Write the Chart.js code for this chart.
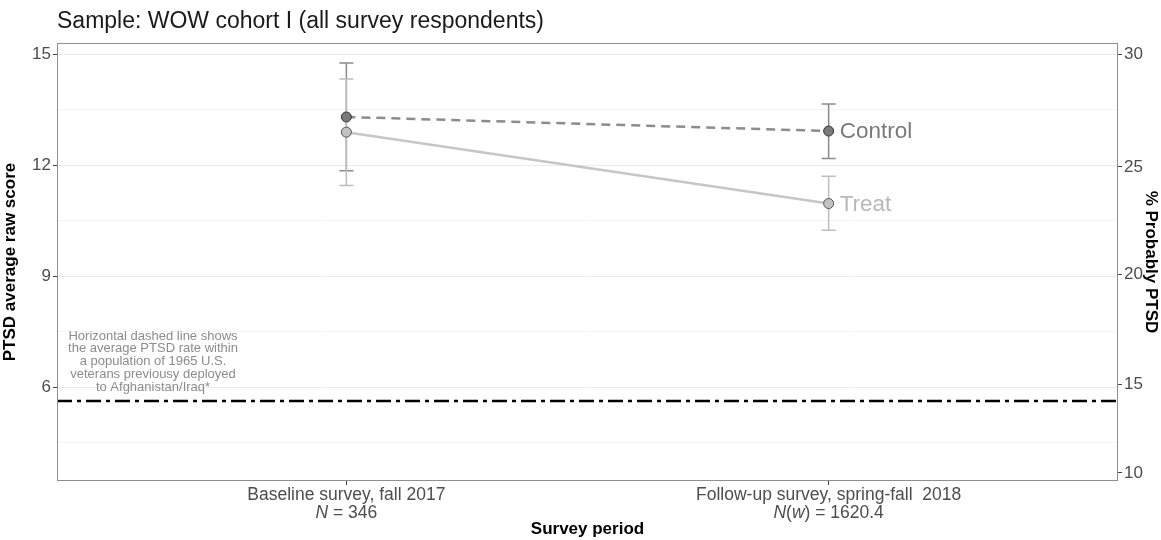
<!DOCTYPE html>
<html>
<head>
  <script src="https://cdn.jsdelivr.net/npm/chart.js@4.4.1/dist/chart.umd.min.js"></script>
  <style>
    body { margin: 0; background: #fff; }
    #wrap { position: relative; width: 1161px; height: 540px; }
  </style>
</head>
<body>
  <div id="wrap"><canvas id="myChart"></canvas></div>
  <script type="text/javascript">
    // data
    var periods = [1, 2];
    var periodLine1 = ['Baseline survey, fall 2017', 'Follow-up survey, spring-fall  2018'];
    var periodN = [['N', ' = 346'], ['N(w)', ' = 1620.4']];
    var groups = ['Control', 'Treat'];
    var controlMean = [13.30, 12.92];
    var controlLow = [11.85, 12.18];
    var controlHigh = [14.76, 13.65];
    var treatMean = [12.89, 10.96];
    var treatLow = [11.45, 10.24];
    var treatHigh = [14.33, 11.70];
    var refLineValue = 5.62;
    var refNote = ['Horizontal dashed line shows', 'the average PTSD rate within', 'a population of 1965 U.S.',
                   'veterans previousy deployed', 'to Afghanistan/Iraq*'];
    // right axis: % probably PTSD labels and the raw score each sits on
    var pctLabels = [10, 15, 20, 25, 30];
    var pctAtRaw = [3.68, 6.08, 9.05, 11.95, 15.0];

    var FONT = '"Liberation Sans", Arial, sans-serif';
    var TICK = 17;

    function pts(vals) {
      return vals.map(function(v, i) { return { x: periods[i], y: v }; });
    }

    var errs = [
      { low: controlLow, high: controlHigh, color: '#8a8a8a' },
      { low: treatLow, high: treatHigh, color: '#bdbdbd' }
    ];

    var extras = {
      id: 'extras',
      beforeDatasetsDraw: function(chart) {
        var ctx = chart.ctx, xs = chart.scales.x, ys = chart.scales.y;
        ctx.save();
        errs.forEach(function(e) {
          ctx.strokeStyle = e.color;
          ctx.lineWidth = 1.5;
          periods.forEach(function(p, i) {
            var x = xs.getPixelForValue(p);
            var y1 = ys.getPixelForValue(e.low[i]), y2 = ys.getPixelForValue(e.high[i]);
            ctx.beginPath();
            ctx.moveTo(x, y1); ctx.lineTo(x, y2);
            ctx.moveTo(x - 7, y1); ctx.lineTo(x + 7, y1);
            ctx.moveTo(x - 7, y2); ctx.lineTo(x + 7, y2);
            ctx.stroke();
          });
        });
        // note above the reference line
        ctx.fillStyle = '#8c8c8c';
        ctx.font = '13px ' + FONT;
        ctx.textAlign = 'center';
        ctx.textBaseline = 'middle';
        refNote.forEach(function(t, i) {
          ctx.fillText(t, 153, 336 + i * 12.9);
        });
        ctx.restore();
      },
      afterDraw: function(chart) {
        var ctx = chart.ctx, a = chart.chartArea, xs = chart.scales.x, ys = chart.scales.y;
        ctx.save();
        // panel border
        ctx.strokeStyle = '#8f8f8f';
        ctx.lineWidth = 1;
        ctx.strokeRect(a.left + 0.5, a.top + 0.5, a.right - a.left - 1, a.bottom - a.top - 1);
        // title
        ctx.fillStyle = '#1a1a1a';
        ctx.font = '23px ' + FONT;
        ctx.textAlign = 'left';
        ctx.textBaseline = 'middle';
        ctx.fillText('Sample: WOW cohort I (all survey respondents)', 57, 22);
        // group labels at the line ends
        var last = periods.length - 1;
        ctx.font = '22.5px ' + FONT;
        ctx.fillStyle = '#7a7a7a';
        ctx.fillText(groups[0], xs.getPixelForValue(periods[last]) + 11, ys.getPixelForValue(controlMean[last]) + 1);
        ctx.fillStyle = '#b8b8b8';
        ctx.fillText(groups[1], xs.getPixelForValue(periods[last]) + 11, ys.getPixelForValue(treatMean[last]) + 1);
        // x tick labels, with italic N
        var f = TICK + 0.5 + 'px ' + FONT, fi = 'italic ' + f;
        var y1 = a.bottom + 14, y2 = a.bottom + 32;
        ctx.fillStyle = '#4d4d4d';
        periods.forEach(function(p, i) {
          var x = xs.getPixelForValue(p);
          ctx.textAlign = 'center';
          ctx.font = f;
          ctx.fillText(periodLine1[i], x, y1);
          // split "N(w)" into italic / upright runs
          var runs = periodN[i][0] === 'N(w)'
            ? [['N', fi], ['(', f], ['w', fi], [')', f], [periodN[i][1], f]]
            : [['N', fi], [periodN[i][1], f]];
          var total = 0;
          runs.forEach(function(r) { ctx.font = r[1]; total += ctx.measureText(r[0]).width; });
          var sx = x - total / 2;
          ctx.textAlign = 'left';
          runs.forEach(function(r) {
            ctx.font = r[1];
            ctx.fillText(r[0], sx, y2);
            sx += ctx.measureText(r[0]).width;
          });
        });
        ctx.restore();
      }
    };

    var ctx = document.getElementById('myChart').getContext('2d');
    var chart = new Chart(ctx, {
      type: 'line',
      data: {
        datasets: [{
          label: 'reference',
          data: [{ x: 0.4, y: refLineValue }, { x: 2.6, y: refLineValue }],
          borderColor: '#000',
          borderWidth: 2.5,
          borderDash: [15, 5, 4, 5],
          pointRadius: 0,
          fill: false
        }, {
          label: groups[1],
          data: pts(treatMean),
          borderColor: '#c6c6c6',
          borderWidth: 2.5,
          pointRadius: 5,
          pointBackgroundColor: '#c2c2c2',
          pointBorderColor: '#555',
          pointBorderWidth: 1,
          fill: false
        }, {
          label: groups[0],
          data: pts(controlMean),
          borderColor: '#8c8c8c',
          borderWidth: 2.5,
          borderDash: [9, 6],
          pointRadius: 5,
          pointBackgroundColor: '#7a7a7a',
          pointBorderColor: '#333',
          pointBorderWidth: 1,
          fill: false
        }]
      },
      options: {
        responsive: true,
        maintainAspectRatio: false,
        animation: false,
        layout: { padding: { top: 43, left: 0, right: 0, bottom: 0 } },
        plugins: {
          legend: { display: false },
          tooltip: { enabled: false }
        },
        scales: {
          x: {
            type: 'linear',
            min: 0.4,
            max: 2.6,
            afterBuildTicks: function(s) { s.ticks = periods.map(function(p) { return { value: p }; }); },
            afterFit: function(s) { s.height = 59; },
            ticks: { display: false },
            grid: { drawOnChartArea: false, drawTicks: true, tickLength: 4, color: '#444' },
            border: { display: false },
            title: {
              display: true, text: 'Survey period', color: '#000',
              font: { family: FONT, size: 17, weight: 'bold' }, padding: { top: 40, bottom: 0 }
            }
          },
          y: {
            position: 'left',
            min: 3.46,
            max: 15.3,
            afterBuildTicks: function(s) {
              s.ticks = [4.5, 6, 7.5, 9, 10.5, 12, 13.5, 15].map(function(v) { return { value: v }; });
            },
            afterFit: function(s) { s.width = 57; },
            ticks: {
              color: '#4d4d4d', padding: 2,
              font: { family: FONT, size: TICK },
              callback: function(v) { return (v % 3 === 0) ? String(v) : ''; }
            },
            grid: {
              tickLength: 4,
              color: function(c) { return (c.tick && c.tick.value % 3 === 0) ? '#ebebeb' : '#f4f4f4'; },
              tickColor: function(c) { return (c.tick && c.tick.value % 3 === 0) ? '#444' : 'rgba(0,0,0,0)'; },
              lineWidth: 1
            },
            border: { display: false },
            title: {
              display: true, text: 'PTSD average raw score', color: '#000',
              font: { family: FONT, size: 17, weight: 'bold' }, padding: { top: 0, bottom: 0 }
            }
          },
          y2: {
            position: 'right',
            min: 3.46,
            max: 15.3,
            afterBuildTicks: function(s) {
              s.ticks = pctAtRaw.map(function(v) { return { value: v }; });
            },
            afterFit: function(s) { s.width = 43; },
            ticks: {
              color: '#4d4d4d', padding: 2,
              font: { family: FONT, size: TICK },
              callback: function(v, i) { return String(pctLabels[i]); }
            },
            grid: { drawOnChartArea: false, tickLength: 4, color: '#444' },
            border: { display: false },
            title: {
              display: true, text: '% Probably PTSD', color: '#000',
              font: { family: FONT, size: 17, weight: 'bold' }, padding: { top: 0, bottom: 0 }
            }
          }
        }
      },
      plugins: [extras]
    });
  </script>
</body>
</html>
